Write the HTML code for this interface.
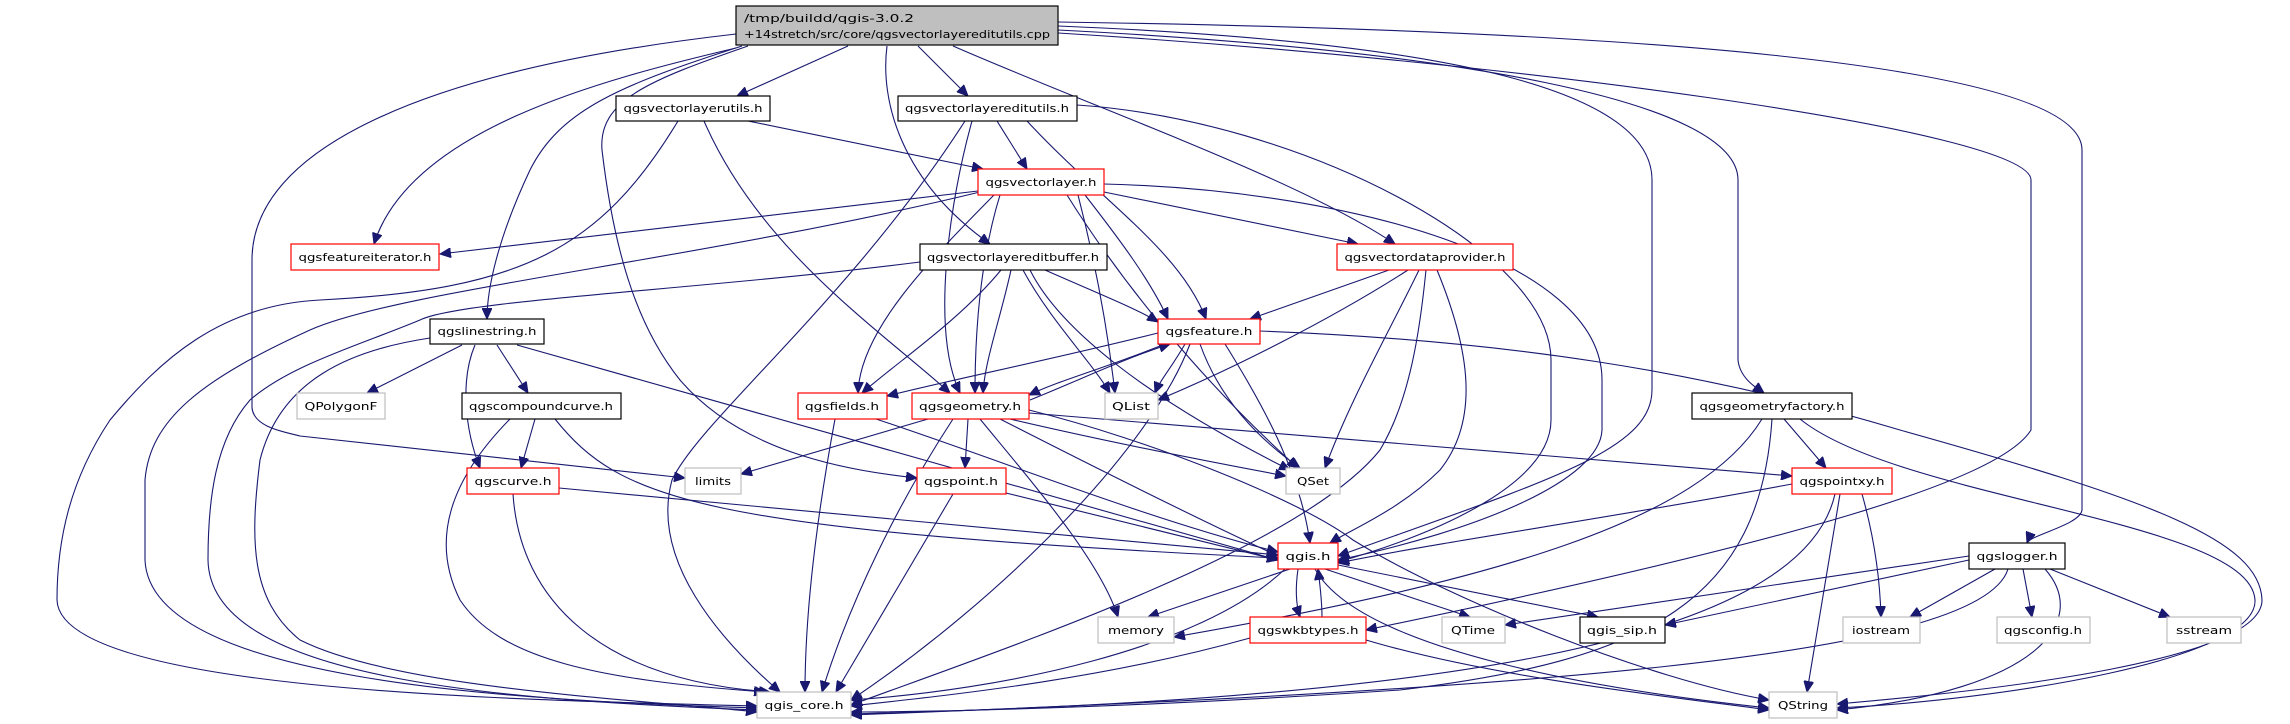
<!DOCTYPE html>
<html><head><meta charset="utf-8"><style>
html,body{margin:0;padding:0;background:#fff;}
svg{display:block;}
text{font-family:"DejaVu Sans","Liberation Sans",sans-serif;font-size:11px;fill:#000;}
.e{fill:none;stroke:#191970;stroke-width:1.1;marker-end:url(#a);}
.n{fill:#fff;stroke:#000;stroke-width:1.2;}
.r{fill:#fff;stroke:#ff0000;stroke-width:1.2;}
.g{fill:#fff;stroke:#bfbfbf;stroke-width:1.2;}
</style></head><body>
<svg width="2290" height="724" viewBox="0 0 2290 724" xmlns="http://www.w3.org/2000/svg">
<defs><marker id="a" markerUnits="userSpaceOnUse" markerWidth="12" markerHeight="10" refX="11" refY="5" orient="auto"><path d="M0,0 L11,5 L0,10 z" fill="#191970" stroke="#191970"/></marker></defs>
<g>
<path class="e" d="M848,46 L737,96"/>
<path class="e" d="M918,46 L968,96"/>
<path class="e" d="M736,48 C600,80 410,130 374,244"/>
<path class="e" d="M736,34 C420,70 252,150 252,260 L252,408 C254,425 275,430 300,436 L685,478"/>
<path class="e" d="M742,46 C620,85 560,110 530,170 C497,240 487,290 487,319"/>
<path class="e" d="M748,46 C650,80 598,100 602,150 C615,260 640,330 680,380 C740,450 840,470 917,478"/>
<path class="e" d="M887,46 C880,100 900,180 990,244"/>
<path class="e" d="M953,46 C1100,110 1300,180 1395,244"/>
<path class="e" d="M1058,26 C1400,40 1652,80 1652,180 L1652,390 C1652,450 1550,480 1338,556"/>
<path class="e" d="M1058,30 C1450,50 1738,100 1738,180 L1738,360 C1740,380 1760,390 1764,393"/>
<path class="e" d="M1058,33 C1500,60 2031,130 2031,180 L2031,430 C2000,480 1800,540 1366,630"/>
<path class="e" d="M1058,22 C1600,30 2082,60 2082,150 L2082,510 C2080,525 2030,535 2027,543"/>
<path class="e" d="M748,121 L983,169"/>
<path class="e" d="M704,121 C760,250 880,330 950,393"/>
<path class="e" d="M678,121 C600,250 520,290 320,300 C220,305 160,360 110,420 C70,480 57,540 57,600 C60,690 500,700 757,706"/>
<path class="e" d="M997,121 L1027,169"/>
<path class="e" d="M972,121 C950,200 930,330 960,393"/>
<path class="e" d="M965,121 C850,300 700,420 672,480 C650,560 720,640 780,692"/>
<path class="e" d="M1027,121 C1100,200 1180,250 1206,319"/>
<path class="e" d="M1077,105 C1300,120 1551,250 1551,360 L1551,420 C1551,480 1450,530 1338,562"/>
<path class="e" d="M978,191 L440,254"/>
<path class="e" d="M980,192 C700,260 400,290 310,330 C200,380 150,420 145,480 L145,560 C150,680 500,700 757,708"/>
<path class="e" d="M994,195 C930,260 860,330 858,393"/>
<path class="e" d="M1000,195 C980,260 975,330 975,393"/>
<path class="e" d="M1078,195 C1100,280 1110,350 1115,393"/>
<path class="e" d="M1067,195 C1120,280 1200,380 1298,468"/>
<path class="e" d="M1085,195 C1120,240 1150,280 1168,319"/>
<path class="e" d="M1104,192 L1358,244"/>
<path class="e" d="M1104,184 C1350,190 1602,260 1602,380 L1602,430 C1600,480 1480,530 1338,560"/>
<path class="e" d="M920,262 C700,290 460,300 420,320 C360,345 290,365 250,400 C215,440 208,500 208,560 C210,680 500,700 757,710"/>
<path class="e" d="M1001,270 C960,320 900,360 862,393"/>
<path class="e" d="M1011,270 C1000,320 985,360 983,393"/>
<path class="e" d="M1023,270 C1050,320 1090,360 1110,393"/>
<path class="e" d="M1030,270 C1060,330 1150,400 1290,470"/>
<path class="e" d="M1045,270 C1090,290 1140,310 1158,322"/>
<path class="e" d="M1389,270 L1250,319"/>
<path class="e" d="M1408,270 C1330,320 1230,370 1158,400"/>
<path class="e" d="M1419,270 C1390,330 1350,400 1325,468"/>
<path class="e" d="M1426,270 C1420,330 1410,400 1380,450 C1300,550 1000,650 851,705"/>
<path class="e" d="M1437,270 C1470,350 1480,420 1440,470 C1400,510 1350,530 1330,543"/>
<path class="e" d="M1158,333 C1050,360 950,380 887,396"/>
<path class="e" d="M1165,344 C1100,370 1060,380 1029,395"/>
<path class="e" d="M1030,400 C1080,380 1120,360 1170,344"/>
<path class="e" d="M1185,344 C1170,370 1160,380 1155,393"/>
<path class="e" d="M1200,344 C1220,400 1260,440 1300,468"/>
<path class="e" d="M1190,344 C1150,450 1000,600 851,700"/>
<path class="e" d="M1225,344 C1260,400 1300,470 1310,543"/>
<path class="e" d="M1260,331 C1500,340 1700,370 1900,430 C2150,500 2260,540 2262,600 C2262,660 2000,690 1837,704"/>
<path class="e" d="M928,419 L741,474"/>
<path class="e" d="M968,419 L965,468"/>
<path class="e" d="M953,419 C900,500 850,600 822,692"/>
<path class="e" d="M980,419 C1030,480 1100,560 1118,617"/>
<path class="e" d="M1010,419 C1100,440 1200,460 1286,476"/>
<path class="e" d="M1000,419 C1100,470 1200,520 1278,556"/>
<path class="e" d="M1029,413 L1792,476"/>
<path class="e" d="M1029,410 C1150,440 1300,500 1353,540 C1450,600 1650,680 1769,700"/>
<path class="e" d="M835,419 C820,500 805,600 805,692"/>
<path class="e" d="M876,419 C1000,460 1150,520 1278,552"/>
<path class="e" d="M462,345 L367,393"/>
<path class="e" d="M475,345 C460,380 465,430 480,468"/>
<path class="e" d="M497,345 L528,393"/>
<path class="e" d="M517,345 L1278,560"/>
<path class="e" d="M430,338 C350,350 280,380 260,460 C250,540 250,600 300,640 C400,690 650,700 757,712"/>
<path class="e" d="M535,419 L521,468"/>
<path class="e" d="M510,419 C450,480 430,540 460,600 C500,660 600,680 765,692"/>
<path class="e" d="M555,419 C620,500 700,530 1278,558"/>
<path class="e" d="M559,488 L1278,555"/>
<path class="e" d="M513,494 C520,600 600,680 770,692"/>
<path class="e" d="M1006,493 L1278,560"/>
<path class="e" d="M953,494 L836,692"/>
<path class="e" d="M1290,569 L1148,617"/>
<path class="e" d="M1285,569 C1200,650 1000,690 851,700"/>
<path class="e" d="M1298,569 C1295,590 1296,605 1300,617"/>
<path class="e" d="M1322,617 C1322,600 1320,585 1318,569"/>
<path class="e" d="M1325,569 L1470,617"/>
<path class="e" d="M1338,565 L1598,617"/>
<path class="e" d="M1315,569 C1360,650 1600,690 1769,708"/>
<path class="e" d="M1250,638 C1100,680 950,695 851,706"/>
<path class="e" d="M1366,640 C1500,680 1700,700 1769,710"/>
<path class="e" d="M1784,419 L1826,468"/>
<path class="e" d="M1772,419 C1760,600 1650,660 1400,690 C1100,710 900,712 851,712"/>
<path class="e" d="M1762,419 C1700,520 1500,580 1174,637"/>
<path class="e" d="M1800,419 C1900,500 2250,520 2255,600 C2258,660 2000,700 1837,708"/>
<path class="e" d="M1792,484 C1600,520 1450,540 1338,563"/>
<path class="e" d="M1835,494 C1800,650 1400,700 851,714"/>
<path class="e" d="M1840,494 L1807,692"/>
<path class="e" d="M1862,494 C1875,540 1880,580 1881,617"/>
<path class="e" d="M1969,556 L1505,625"/>
<path class="e" d="M1969,560 L1665,625"/>
<path class="e" d="M1995,569 L1910,617"/>
<path class="e" d="M2023,569 L2032,617"/>
<path class="e" d="M2050,569 L2170,617"/>
<path class="e" d="M2045,569 C2090,620 2040,690 1837,710"/>
<path class="e" d="M2008,569 C1980,660 1500,690 851,715"/>
</g>
<g>
<rect x="736" y="6" width="322" height="39" fill="#bfbfbf" stroke="#000" stroke-width="1.2"/>
<text x="744" y="22" textLength="170" lengthAdjust="spacingAndGlyphs">/tmp/buildd/qgis-3.0.2</text>
<text x="744" y="38" textLength="306" lengthAdjust="spacingAndGlyphs">+14stretch/src/core/qgsvectorlayereditutils.cpp</text>
</g>
<g text-anchor="middle">
<rect class="n" x="616" y="96" width="154" height="25"/><text x="693" y="112" textLength="139" lengthAdjust="spacingAndGlyphs">qgsvectorlayerutils.h</text>
<rect class="n" x="898" y="96" width="179" height="25"/><text x="987" y="112" textLength="164" lengthAdjust="spacingAndGlyphs">qgsvectorlayereditutils.h</text>
<rect class="r" x="978" y="169" width="126" height="26"/><text x="1041" y="186" textLength="111" lengthAdjust="spacingAndGlyphs">qgsvectorlayer.h</text>
<rect class="r" x="291" y="244" width="148" height="26"/><text x="365" y="261" textLength="133" lengthAdjust="spacingAndGlyphs">qgsfeatureiterator.h</text>
<rect class="n" x="920" y="244" width="187" height="26"/><text x="1013" y="261" textLength="172" lengthAdjust="spacingAndGlyphs">qgsvectorlayereditbuffer.h</text>
<rect class="r" x="1337" y="244" width="176" height="26"/><text x="1425" y="261" textLength="161" lengthAdjust="spacingAndGlyphs">qgsvectordataprovider.h</text>
<rect class="n" x="430" y="319" width="114" height="25"/><text x="487" y="335" textLength="99" lengthAdjust="spacingAndGlyphs">qgslinestring.h</text>
<rect class="r" x="1158" y="319" width="102" height="25"/><text x="1209" y="335" textLength="87" lengthAdjust="spacingAndGlyphs">qgsfeature.h</text>
<rect class="g" x="297" y="393" width="88" height="26"/><text x="341" y="410" textLength="73" lengthAdjust="spacingAndGlyphs">QPolygonF</text>
<rect class="n" x="462" y="393" width="159" height="26"/><text x="541" y="410" textLength="144" lengthAdjust="spacingAndGlyphs">qgscompoundcurve.h</text>
<rect class="r" x="798" y="393" width="89" height="26"/><text x="842" y="410" textLength="74" lengthAdjust="spacingAndGlyphs">qgsfields.h</text>
<rect class="r" x="912" y="393" width="117" height="26"/><text x="970" y="410" textLength="102" lengthAdjust="spacingAndGlyphs">qgsgeometry.h</text>
<rect class="g" x="1105" y="393" width="53" height="26"/><text x="1131" y="410" textLength="38" lengthAdjust="spacingAndGlyphs">QList</text>
<rect class="n" x="1692" y="393" width="160" height="26"/><text x="1772" y="410" textLength="145" lengthAdjust="spacingAndGlyphs">qgsgeometryfactory.h</text>
<rect class="r" x="467" y="468" width="92" height="26"/><text x="513" y="485" textLength="77" lengthAdjust="spacingAndGlyphs">qgscurve.h</text>
<rect class="g" x="685" y="468" width="56" height="26"/><text x="713" y="485" textLength="36" lengthAdjust="spacingAndGlyphs">limits</text>
<rect class="r" x="917" y="468" width="89" height="26"/><text x="961" y="485" textLength="74" lengthAdjust="spacingAndGlyphs">qgspoint.h</text>
<rect class="g" x="1286" y="468" width="54" height="26"/><text x="1313" y="485" textLength="32" lengthAdjust="spacingAndGlyphs">QSet</text>
<rect class="r" x="1792" y="468" width="100" height="26"/><text x="1842" y="485" textLength="85" lengthAdjust="spacingAndGlyphs">qgspointxy.h</text>
<rect class="r" x="1278" y="543" width="60" height="26"/><text x="1308" y="560" textLength="45" lengthAdjust="spacingAndGlyphs">qgis.h</text>
<rect class="n" x="1969" y="543" width="96" height="26"/><text x="2017" y="560" textLength="81" lengthAdjust="spacingAndGlyphs">qgslogger.h</text>
<rect class="g" x="1098" y="617" width="76" height="26"/><text x="1136" y="634" textLength="56" lengthAdjust="spacingAndGlyphs">memory</text>
<rect class="r" x="1250" y="617" width="116" height="26"/><text x="1308" y="634" textLength="101" lengthAdjust="spacingAndGlyphs">qgswkbtypes.h</text>
<rect class="g" x="1442" y="617" width="63" height="26"/><text x="1473" y="634" textLength="44" lengthAdjust="spacingAndGlyphs">QTime</text>
<rect class="n" x="1580" y="617" width="85" height="26"/><text x="1622" y="634" textLength="70" lengthAdjust="spacingAndGlyphs">qgis_sip.h</text>
<rect class="g" x="1843" y="617" width="77" height="26"/><text x="1881" y="634" textLength="58" lengthAdjust="spacingAndGlyphs">iostream</text>
<rect class="g" x="1997" y="617" width="93" height="26"/><text x="2043" y="634" textLength="78" lengthAdjust="spacingAndGlyphs">qgsconfig.h</text>
<rect class="g" x="2167" y="617" width="74" height="26"/><text x="2204" y="634" textLength="56" lengthAdjust="spacingAndGlyphs">sstream</text>
<rect class="g" x="757" y="692" width="94" height="26"/><text x="804" y="709" textLength="79" lengthAdjust="spacingAndGlyphs">qgis_core.h</text>
<rect class="g" x="1769" y="692" width="68" height="26"/><text x="1803" y="709" textLength="50" lengthAdjust="spacingAndGlyphs">QString</text>
</g>
</svg>
</body></html>
